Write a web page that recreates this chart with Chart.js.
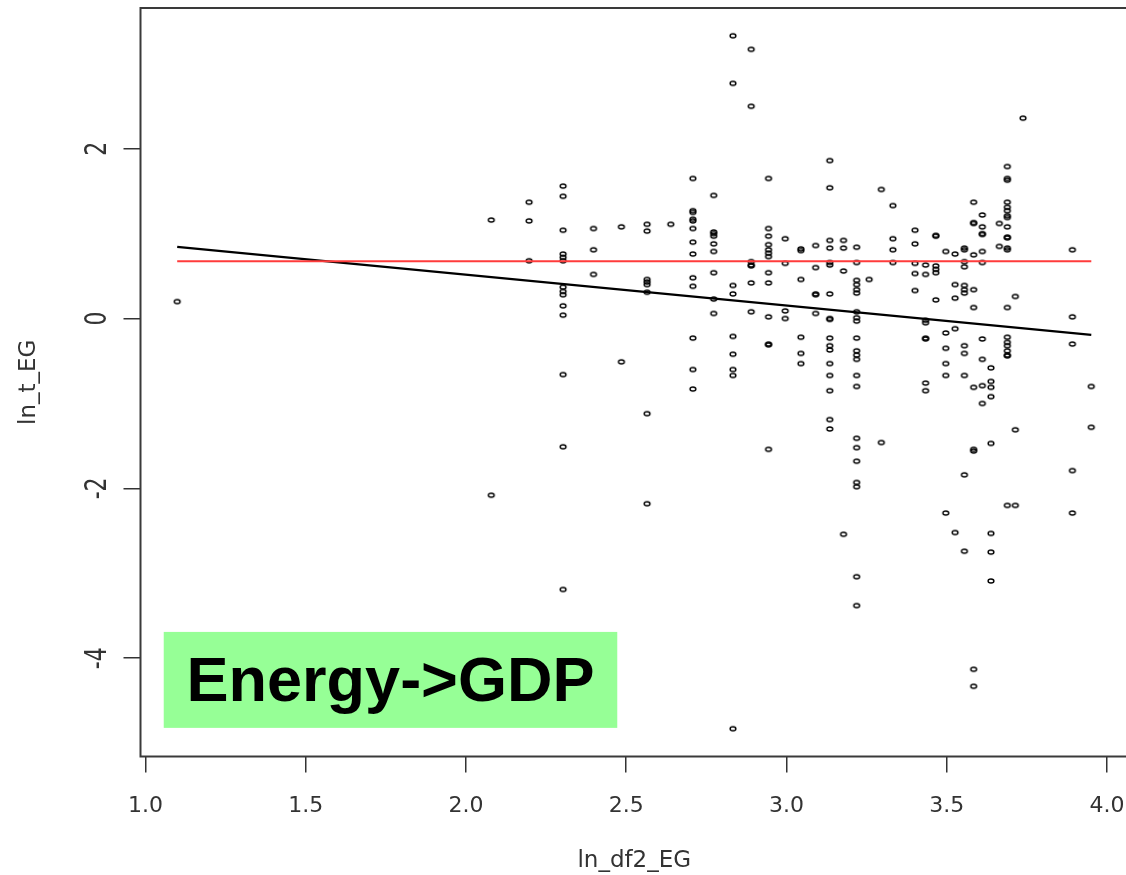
<!DOCTYPE html>
<html>
<head>
<meta charset="utf-8">
<script src="https://cdn.jsdelivr.net/npm/chart.js@4.4.1/dist/chart.umd.min.js"></script>
<style>
  html, body { margin: 0; padding: 0; background: #fff; overflow: hidden; }
  #wrap { width: 1130px; height: 875px; }
</style>
</head>
<body>
<div id="wrap"><canvas id="scatter" width="1130" height="875"></canvas></div>
<script>
// ln of df2 for each column of points
const lnDf2 = [1.099, 2.079, 2.197, 2.303, 2.398, 2.485, 2.565, 2.639, 2.708, 2.773,
  2.833, 2.890, 2.944, 2.996, 3.045, 3.091, 3.135, 3.178, 3.219, 3.258,
  3.296, 3.332, 3.401, 3.434, 3.466, 3.497, 3.526, 3.555, 3.584, 3.611,
  3.638, 3.664, 3.689, 3.714, 3.738, 3.892, 3.951];

// ln_t_EG values, one list per column above
const lnT = [
  [0.20],
  [1.16, -2.08],
  [1.37, 1.15, 0.68],
  [1.56, 1.44, 1.04, 0.76, 0.72, 0.68, 0.37, 0.32, 0.28, 0.15, 0.04, -0.66, -1.51, -3.19],
  [1.06, 0.81, 0.52],
  [1.08, -0.51],
  [1.11, 1.03, 0.46, 0.43, 0.40, 0.31, -1.12, -2.18],
  [1.11],
  [1.65, 1.27, 1.25, 1.17, 1.15, 1.06, 0.90, 0.76, 0.48, 0.38, -0.23, -0.60, -0.83],
  [1.45, 1.02, 1.00, 0.97, 0.88, 0.79, 0.54, 0.23, 0.06],
  [3.33, 2.77, 0.39, 0.29, -0.21, -0.42, -0.60, -0.67, -4.83],
  [3.17, 2.50, 0.67, 0.63, 0.62, 0.42, 0.08],
  [1.65, 1.06, 0.97, 0.87, 0.81, 0.77, 0.73, 0.54, 0.42, 0.02, -0.30, -0.31, -1.54],
  [0.94, 0.65, 0.09, 0.00],
  [0.82, 0.80, 0.46, -0.22, -0.41, -0.53],
  [0.86, 0.60, 0.29, 0.28, 0.06],
  [1.86, 1.54, 0.92, 0.83, 0.66, 0.63, 0.29, 0.00, -0.01, -0.23, -0.32, -0.37, -0.53, -0.67, -0.85, -1.19, -1.30],
  [0.92, 0.83, 0.56, -2.54],
  [0.84, 0.66, 0.45, 0.40, 0.34, 0.30, 0.08, 0.01, -0.03, -0.23, -0.38, -0.43, -0.48, -0.67, -0.80, -1.41, -1.52, -1.68, -1.93, -1.98, -3.04, -3.38],
  [0.46],
  [1.52, -1.46],
  [1.33, 0.94, 0.81, 0.66],
  [1.04, 0.88, 0.65, 0.53, 0.33],
  [0.63, 0.52, -0.02, -0.05, -0.23, -0.24, -0.76, -0.85],
  [0.98, 0.97, 0.62, 0.58, 0.54, 0.22],
  [0.79, -0.17, -0.35, -0.53, -0.67, -2.29],
  [0.76, 0.40, 0.24, -0.12, -2.52],
  [0.83, 0.81, 0.67, 0.61, 0.39, 0.34, 0.30, -0.32, -0.41, -0.67, -1.84, -2.74],
  [1.37, 1.13, 1.12, 0.75, 0.34, 0.13, -0.81, -1.54, -1.56, -4.13, -4.33],
  [1.22, 1.08, 1.00, 0.99, 0.79, 0.66, -0.24, -0.48, -0.79, -1.00],
  [-0.58, -0.74, -0.81, -0.92, -1.47, -2.53, -2.75, -3.09],
  [1.12, 0.85],
  [1.79, 1.65, 1.63, 1.37, 1.31, 1.27, 1.21, 1.19, 1.08, 0.96, 0.95, 0.83, 0.81, 0.13, -0.22, -0.28, -0.32, -0.38, -0.43, -0.44, -2.20],
  [0.26, -1.31, -2.20],
  [2.36],
  [0.81, 0.02, -0.30, -1.79, -2.29],
  [-0.80, -1.28]
];

// fitted line (black) and the horizontal red line, end points
const fitLine = [{ x: 1.099, y: 0.843 }, { x: 3.951, y: -0.193 }];
const refLine = [{ x: 1.099, y: 0.676 }, { x: 3.951, y: 0.676 }];

const xTickValues = [1.0, 1.5, 2.0, 2.5, 3.0, 3.5, 4.0];
const xTickLabels = ['1.0', '1.5', '2.0', '2.5', '3.0', '3.5', '4.0'];
const yTickValues = [-4, -2, 0, 2];
const yTickLabels = ['-4', '-2', '0', '2'];

const points = [];
lnDf2.forEach((x, i) => lnT[i].forEach(y => points.push({ x, y })));

// open ellipse marker, the picture is stretched sideways
function makeMarker() {
  const c = document.createElement('canvas');
  c.width = 10; c.height = 8;
  const g = c.getContext('2d');
  g.strokeStyle = '#000';
  g.lineWidth = 1.4;
  g.beginPath();
  g.ellipse(5, 4, 2.9, 2.0, 0, 0, Math.PI * 2);
  g.stroke();
  return c;
}

const axisColor = '#333';
const axisFont = { family: 'DejaVu Sans', size: 22 };

const framePlugin = {
  id: 'frame',
  afterDraw(chart) {
    const { ctx, chartArea: a, scales } = chart;
    ctx.save();
    ctx.strokeStyle = '#3a3a3a';
    ctx.lineWidth = 2;
    ctx.strokeRect(a.left, a.top, a.right - a.left, a.bottom - a.top);

    // y tick labels, turned like base R draws them
    ctx.fillStyle = axisColor;
    ctx.font = '22px "DejaVu Sans"';
    ctx.textAlign = 'center';
    ctx.textBaseline = 'alphabetic';
    yTickValues.forEach((v, i) => {
      const py = scales.y.getPixelForValue(v);
      ctx.save();
      ctx.translate(a.left - 35, py);
      ctx.rotate(-Math.PI / 2);
      ctx.scale(1, 1.35);
      ctx.fillText(yTickLabels[i], 0, 0);
      ctx.restore();
    });

    // green label box
    const x0 = scales.x.getPixelForValue(1.057);
    const x1 = scales.x.getPixelForValue(2.472);
    const y0 = scales.y.getPixelForValue(-3.69);
    const y1 = scales.y.getPixelForValue(-4.82);
    ctx.fillStyle = '#96ff96';
    ctx.fillRect(x0, y0, x1 - x0, y1 - y0);
    ctx.fillStyle = '#000';
    ctx.font = 'bold 63px "Liberation Sans"';
    ctx.textAlign = 'center';
    ctx.fillText('Energy->GDP', (x0 + x1) / 2, (y0 + y1) / 2 + 21.5);
    ctx.restore();
  }
};

new Chart(document.getElementById('scatter'), {
  type: 'scatter',
  data: {
    datasets: [
      { type: 'line', data: refLine, borderColor: '#ff3b3b', borderWidth: 2, pointRadius: 0, fill: false },
      { type: 'line', data: fitLine, borderColor: '#000', borderWidth: 2.3, pointRadius: 0, fill: false },
      { data: points, pointStyle: makeMarker(), pointRadius: 3, borderColor: '#000', backgroundColor: 'transparent' }
    ]
  },
  options: {
    responsive: false,
    animation: false,
    layout: { autoPadding: false, padding: { top: 8, left: 0, right: 2, bottom: 0 } },
    plugins: { legend: { display: false }, tooltip: { enabled: false } },
    scales: {
      x: {
        type: 'linear',
        min: 0.9845,
        max: 4.0655,
        afterFit: s => { s.height = 118.5; s.paddingLeft = 0; s.paddingRight = 0; },
        afterBuildTicks: s => { s.ticks = xTickValues.map(v => ({ value: v })); },
        ticks: {
          callback: (v, i) => xTickLabels[i],
          font: axisFont, color: axisColor, padding: 21, maxRotation: 0, autoSkip: false
        },
        grid: { drawOnChartArea: false, drawTicks: true, tickLength: 16, color: axisColor, lineWidth: 1.5 },
        border: { display: false },
        title: { display: true, text: 'ln_df2_EG', font: { family: 'DejaVu Sans', size: 23 }, color: axisColor, padding: { top: 0, bottom: 0 } }
      },
      y: {
        type: 'linear',
        min: -5.157,
        max: 3.657,
        afterFit: s => { s.width = 140.5; s.paddingTop = 0; s.paddingBottom = 0; },
        afterBuildTicks: s => { s.ticks = yTickValues.map(v => ({ value: v })); },
        ticks: { display: false },
        grid: { drawOnChartArea: false, drawTicks: true, tickLength: 17, color: axisColor, lineWidth: 1.5 },
        border: { display: false },
        title: { display: true, text: 'ln_t_EG', font: { family: 'DejaVu Sans', size: 23 }, color: axisColor, padding: { top: 15, bottom: 0 } }
      }
    }
  },
  plugins: [framePlugin]
});
</script>
</body>
</html>
